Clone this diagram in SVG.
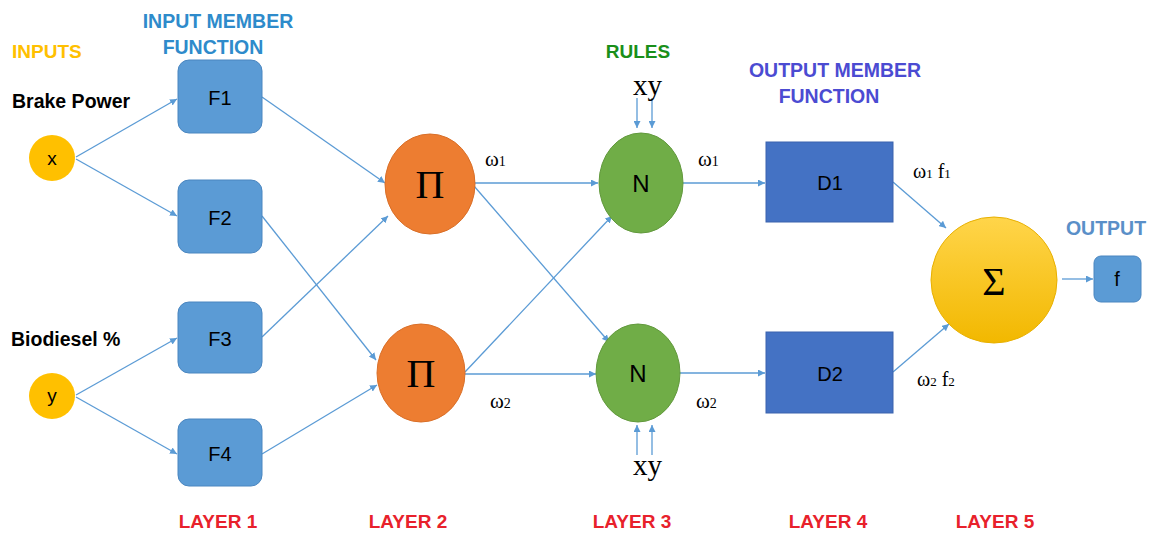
<svg xmlns="http://www.w3.org/2000/svg" width="1153" height="534" viewBox="0 0 1153 534">
<defs>
<marker id="ah" viewBox="0 0 10 10" refX="10" refY="5" markerWidth="7" markerHeight="7" markerUnits="userSpaceOnUse" orient="auto">
<path d="M0,0 L10,5 L0,10 z" fill="#5B9BD5"/>
</marker>
<linearGradient id="sg" x1="0" y1="0" x2="0" y2="1">
<stop offset="0" stop-color="#FFD54A"/>
<stop offset="1" stop-color="#F2B800"/>
</linearGradient>
<style>
.c{stroke:#5B9BD5;stroke-width:1.3;fill:none;marker-end:url(#ah)}
.fb{fill:#5B9BD5;stroke:#4A86C0;stroke-width:1}
.db{fill:#4472C4;stroke:#3A63AD;stroke-width:1}
.s{font-family:"Liberation Sans",Arial,sans-serif}
.b{font-family:"Liberation Sans",Arial,sans-serif;font-weight:bold}
.t{font-family:"Liberation Serif","Times New Roman",serif}
.lay{fill:#E8212B;font-size:19px}
</style>
</defs>
<rect width="1153" height="534" fill="#fff"/>

<g id="headers">
<text class="b" x="12" y="58" font-size="19" fill="#FFC000">INPUTS</text>
<text class="b" x="218" y="28" font-size="19.5" fill="#2E8BCB" text-anchor="middle">INPUT MEMBER</text>
<text class="b" x="213" y="54" font-size="19.5" fill="#2E8BCB" text-anchor="middle">FUNCTION</text>
<text class="b" x="638" y="58" font-size="19" fill="#1A8F1A" text-anchor="middle">RULES</text>
<text class="b" x="835" y="77" font-size="19.5" fill="#4B4BD2" text-anchor="middle">OUTPUT MEMBER</text>
<text class="b" x="829" y="103" font-size="19.5" fill="#4B4BD2" text-anchor="middle">FUNCTION</text>
<text class="b" x="1106" y="235" font-size="19.5" fill="#5A8FC8" text-anchor="middle">OUTPUT</text>
<text class="b" x="12" y="108" font-size="19.5" fill="#000">Brake Power</text>
<text class="b" x="11" y="346" font-size="19.5" fill="#000">Biodiesel %</text>
</g>

<g id="layers">
<text class="b lay" x="218" y="528" text-anchor="middle">LAYER 1</text>
<text class="b lay" x="408" y="528" text-anchor="middle">LAYER 2</text>
<text class="b lay" x="632" y="528" text-anchor="middle">LAYER 3</text>
<text class="b lay" x="828" y="528" text-anchor="middle">LAYER 4</text>
<text class="b lay" x="995" y="528" text-anchor="middle">LAYER 5</text>
</g>

<g id="connectors">
<line class="c" x1="76" y1="157" x2="177" y2="99"/>
<line class="c" x1="76" y1="159" x2="177" y2="216"/>
<line class="c" x1="76" y1="395" x2="177" y2="338"/>
<line class="c" x1="76" y1="397" x2="177" y2="454"/>
<line class="c" x1="262" y1="97" x2="385" y2="183"/>
<line class="c" x1="262" y1="216" x2="376" y2="360"/>
<line class="c" x1="262" y1="337" x2="388" y2="216"/>
<line class="c" x1="262" y1="454" x2="377" y2="385"/>
<line class="c" x1="475" y1="183" x2="598" y2="183"/>
<line class="c" x1="474" y1="186" x2="609" y2="342"/>
<line class="c" x1="465" y1="372" x2="612" y2="216"/>
<line class="c" x1="465" y1="374" x2="596" y2="374"/>
<line class="c" x1="683" y1="183" x2="765" y2="183"/>
<line class="c" x1="679" y1="373" x2="765" y2="373"/>
<line class="c" x1="893" y1="182" x2="946" y2="228"/>
<line class="c" x1="893" y1="372" x2="949" y2="324"/>
<line class="c" x1="1062" y1="279" x2="1093" y2="279"/>
<line class="c" x1="637" y1="98" x2="637" y2="128"/>
<line class="c" x1="652" y1="98" x2="652" y2="128"/>
<line class="c" x1="637" y1="455" x2="637" y2="425"/>
<line class="c" x1="652" y1="455" x2="652" y2="425"/>
</g>

<g id="node-x"><circle cx="52" cy="158" r="23" fill="#FFC000"/><text class="s" x="52" y="165" font-size="19" text-anchor="middle">x</text></g>
<g id="node-y"><circle cx="52" cy="396" r="23" fill="#FFC000"/><text class="s" x="52" y="402" font-size="19" text-anchor="middle">y</text></g>

<g id="node-F1"><rect class="fb" x="178" y="60" width="84" height="73" rx="11"/><text class="s" x="220" y="105" font-size="20" text-anchor="middle">F1</text></g>
<g id="node-F2"><rect class="fb" x="178" y="180" width="84" height="73" rx="11"/><text class="s" x="220" y="225" font-size="20" text-anchor="middle">F2</text></g>
<g id="node-F3"><rect class="fb" x="178" y="302" width="84" height="71" rx="11"/><text class="s" x="220" y="346" font-size="20" text-anchor="middle">F3</text></g>
<g id="node-F4"><rect class="fb" x="178" y="419" width="84" height="67" rx="11"/><text class="s" x="220" y="461" font-size="20" text-anchor="middle">F4</text></g>

<g id="node-P1"><ellipse cx="430" cy="184" rx="45" ry="50" fill="#ED7D31" stroke="#D96F28" stroke-width="1"/><text class="t" x="430" y="198" font-size="40" text-anchor="middle">Π</text></g>
<g id="node-P2"><ellipse cx="421" cy="373" rx="44" ry="49" fill="#ED7D31" stroke="#D96F28" stroke-width="1"/><text class="t" x="421" y="387" font-size="40" text-anchor="middle">Π</text></g>

<g id="node-N1"><ellipse cx="641" cy="183" rx="42" ry="50" fill="#70AD47" stroke="#62993D" stroke-width="1"/><text class="s" x="641" y="192" font-size="24" text-anchor="middle">N</text></g>
<g id="node-N2"><ellipse cx="638" cy="373" rx="42" ry="49" fill="#70AD47" stroke="#62993D" stroke-width="1"/><text class="s" x="638" y="382" font-size="24" text-anchor="middle">N</text></g>

<g id="node-D1"><rect class="db" x="766" y="142" width="127" height="80"/><text class="s" x="830" y="190" font-size="20" text-anchor="middle">D1</text></g>
<g id="node-D2"><rect class="db" x="766" y="332" width="127" height="81"/><text class="s" x="830" y="381" font-size="20" text-anchor="middle">D2</text></g>

<g id="node-sum"><circle cx="994" cy="280" r="63" fill="url(#sg)" stroke="#E8B000" stroke-width="1"/><text class="t" x="994" y="295" font-size="40" text-anchor="middle">Σ</text></g>
<g id="node-f"><rect class="fb" x="1094" y="256" width="47" height="46" rx="7"/><text class="s" x="1117" y="286" font-size="20" text-anchor="middle">f</text></g>

<g id="labels" class="t" fill="#000">
<text x="633" y="95" font-size="29">xy</text>
<text x="633" y="475" font-size="29">xy</text>
<text x="485" y="166" font-size="21">ω<tspan font-size="14">1</tspan></text>
<text x="698" y="166" font-size="21">ω<tspan font-size="14">1</tspan></text>
<text x="490" y="408" font-size="21">ω<tspan font-size="14">2</tspan></text>
<text x="696" y="408" font-size="21">ω<tspan font-size="14">2</tspan></text>
<text x="913" y="178" font-size="20">ω<tspan font-size="13">1</tspan> f<tspan font-size="13">1</tspan></text>
<text x="917" y="386" font-size="20">ω<tspan font-size="13">2</tspan> f<tspan font-size="13">2</tspan></text>
</g>
</svg>
